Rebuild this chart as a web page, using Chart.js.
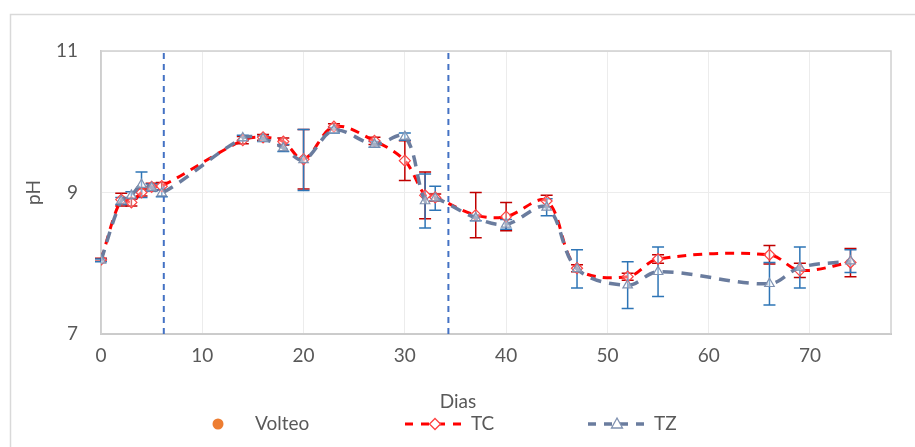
<!DOCTYPE html>
<html><head><meta charset="utf-8">
<script src="https://cdn.jsdelivr.net/npm/chart.js@4.4.1/dist/chart.umd.min.js"></script>
<style>html,body{margin:0;padding:0;background:#fff;}#wrap{width:915px;height:447px;position:relative}</style>
</head><body><div id="wrap"><canvas id="c" width="915" height="447"></canvas></div>
<script>
const days     = [0,    2,    3,    4,    5,    6,    14,   16,   18,   20,   23,   27,   30,   32,   33,   37,   40,   44,   47,   52,   55,   66,   69,   74];
const tcValues = [8.05, 8.90, 8.86, 9.00, 9.08, 9.09, 9.74, 9.78, 9.72, 9.47, 9.93, 9.73, 9.45, 8.96, 8.93, 8.68, 8.66, 8.88, 7.93, 7.81, 8.06, 8.12, 7.90, 8.01];
const tcErrors = [0.02, 0.09, 0.05, 0.05, 0.05, 0.05, 0.05, 0.04, 0.05, 0.42, 0.04, 0.05, 0.28, 0.33, 0.05, 0.32, 0.20, 0.08, 0.05, 0.05, 0.06, 0.13, 0.10, 0.20];
const tzValues = [8.04, 8.88, 8.96, 9.11, 9.07, 8.99, 9.77, 9.76, 9.63, 9.46, 9.88, 9.68, 9.79, 8.88, 8.92, 8.64, 8.55, 8.79, 7.92, 7.69, 7.88, 7.71, 7.94, 8.03];
const tzErrors = [0.02, 0.05, 0.05, 0.18, 0.05, 0.05, 0.04, 0.04, 0.05, 0.43, 0.04, 0.04, 0.05, 0.38, 0.17, 0.04, 0.07, 0.12, 0.27, 0.33, 0.35, 0.30, 0.29, 0.16];
const volteoDays = [6.2, 34.3];
const xTicks = [0, 10, 20, 30, 40, 50, 60, 70];
const yTicks = [7, 9, 11];
const seriesNames = ['Volteo', 'TC', 'TZ'];
const xTitle = 'Dias';
const yTitle = 'pH';

const FONT = 'Lato';
const TXT = '#595959';
const TC_COL = '#FF0000';
const TZ_COL = '#6A7C9E';

const toPts = vals => days.map((d, i) => ({x: d, y: vals[i]}));

const datasets = [
  {label: seriesNames[2], data: toPts(tzValues), showLine: true, order: 0,
   borderColor: TZ_COL, borderWidth: 3.5, borderDash: [11, 8], tension: 0.35,
   pointStyle: 'triangle', pointRadius: 5.5, pointBorderWidth: 1.2,
   pointBorderColor: '#7F91B0', pointBackgroundColor: 'rgba(255,255,255,0.4)'},
  {label: seriesNames[1], data: toPts(tcValues), showLine: true, order: 1,
   borderColor: TC_COL, borderWidth: 3, borderDash: [9, 7], tension: 0.35,
   pointStyle: 'rectRot', pointRadius: 5.5, pointBorderWidth: 1.2,
   pointBorderColor: '#FF4040', pointBackgroundColor: 'rgba(255,255,255,0.4)'}
];
volteoDays.forEach(d => datasets.push({
  label: seriesNames[0], data: [{x: d, y: yTicks[0]}, {x: d, y: yTicks[yTicks.length - 1]}],
  showLine: true, order: 2, borderColor: '#4472C4', borderWidth: 2, borderDash: [6, 5],
  pointRadius: 0, tension: 0
}));

const framePlugin = {
  id: 'frame',
  beforeDraw(chart) {
    const {ctx} = chart;
    ctx.save();
    ctx.fillStyle = '#fff';
    ctx.fillRect(0, 0, chart.width, chart.height);
    ctx.strokeStyle = '#d9d9d9';
    ctx.lineWidth = 1.5;
    ctx.strokeRect(10.5, 14.5, chart.width + 10, chart.height + 10);
    ctx.restore();
  },
  beforeDatasetsDraw(chart) {
    const {ctx, chartArea: a, scales: {x, y}} = chart;
    ctx.save();
    ctx.strokeStyle = '#d0d0d0';
    ctx.lineWidth = 1.5;
    ctx.strokeRect(a.left, a.top, a.right - a.left, a.bottom - a.top);
    [[tcValues, tcErrors, '#C00000'], [tzValues, tzErrors, '#2E75B6']].forEach(([vals, errs, col]) => {
      ctx.strokeStyle = col; ctx.lineWidth = 1.5; ctx.setLineDash([]);
      days.forEach((d, i) => {
        const px = x.getPixelForValue(d);
        const top = y.getPixelForValue(vals[i] + errs[i]);
        const bot = y.getPixelForValue(vals[i] - errs[i]);
        ctx.beginPath();
        ctx.moveTo(px, top); ctx.lineTo(px, bot);
        ctx.moveTo(px - 6, top); ctx.lineTo(px + 6, top);
        ctx.moveTo(px - 6, bot); ctx.lineTo(px + 6, bot);
        ctx.stroke();
      });
    });
    ctx.restore();
  },
  afterDraw(chart) {
    const {ctx} = chart;
    ctx.save();
    ctx.fillStyle = TXT;
    ctx.font = `19px ${FONT}`;
    ctx.textBaseline = 'middle';
    ctx.textAlign = 'center';
    ctx.fillText(xTitle, 458, 402);
    ctx.textAlign = 'left';
    const ly = 424;
    ctx.fillStyle = '#ED7D31';
    ctx.beginPath(); ctx.arc(218, ly, 5.5, 0, Math.PI * 2); ctx.fill();
    ctx.fillStyle = TXT;
    ctx.fillText(seriesNames[0], 255, ly);
    ctx.strokeStyle = TC_COL; ctx.lineWidth = 3; ctx.setLineDash([8, 8]);
    ctx.beginPath(); ctx.moveTo(405, ly); ctx.lineTo(464, ly); ctx.stroke();
    ctx.setLineDash([]);
    ctx.fillStyle = '#fff'; ctx.strokeStyle = '#FF4040'; ctx.lineWidth = 1.3;
    ctx.beginPath(); ctx.moveTo(435, ly - 5.5); ctx.lineTo(440.5, ly); ctx.lineTo(435, ly + 5.5); ctx.lineTo(429.5, ly); ctx.closePath(); ctx.fill(); ctx.stroke();
    ctx.fillStyle = TXT;
    ctx.fillText(seriesNames[1], 471, ly);
    ctx.strokeStyle = TZ_COL; ctx.lineWidth = 3.5; ctx.setLineDash([8, 8]);
    ctx.beginPath(); ctx.moveTo(588, ly); ctx.lineTo(646, ly); ctx.stroke();
    ctx.setLineDash([]);
    ctx.fillStyle = '#fff'; ctx.strokeStyle = '#7F91B0'; ctx.lineWidth = 1.3;
    ctx.beginPath(); ctx.moveTo(617, ly - 6); ctx.lineTo(622.5, ly + 4); ctx.lineTo(611.5, ly + 4); ctx.closePath(); ctx.fill(); ctx.stroke();
    ctx.fillStyle = TXT;
    ctx.fillText(seriesNames[2], 654, ly);
    ctx.restore();
  }
};

new Chart(document.getElementById('c'), {
  type: 'scatter',
  data: {datasets},
  options: {
    responsive: false, animation: false, devicePixelRatio: 1,
    layout: {padding: {top: 51, right: 24, left: 0, bottom: 0}},
    plugins: {legend: {display: false}, tooltip: {enabled: false}},
    scales: {
      x: {
        type: 'linear', min: 0, max: 78,
        afterBuildTicks: s => { s.ticks = xTicks.map(v => ({value: v})); },
        afterFit: s => { s.height = 113; },
        grid: {color: '#ececec', lineWidth: 1, drawTicks: false},
        border: {color: '#bfbfbf', width: 2},
        ticks: {font: {family: FONT, size: 19}, color: TXT, padding: 10, maxRotation: 0, autoSkip: false}
      },
      y: {
        min: 7, max: 11,
        afterBuildTicks: s => { s.ticks = yTicks.map(v => ({value: v})); },
        afterFit: s => { s.width = 101; },
        grid: {color: '#ececec', lineWidth: 1, drawTicks: false},
        border: {color: '#c8c8c8', width: 1.5},
        ticks: {font: {family: FONT, size: 19}, color: TXT, padding: 23},
        title: {display: true, text: yTitle, font: {family: FONT, size: 19}, color: TXT, padding: {top: 22, bottom: 0}}
      }
    }
  },
  plugins: [framePlugin]
});
</script></body></html>
